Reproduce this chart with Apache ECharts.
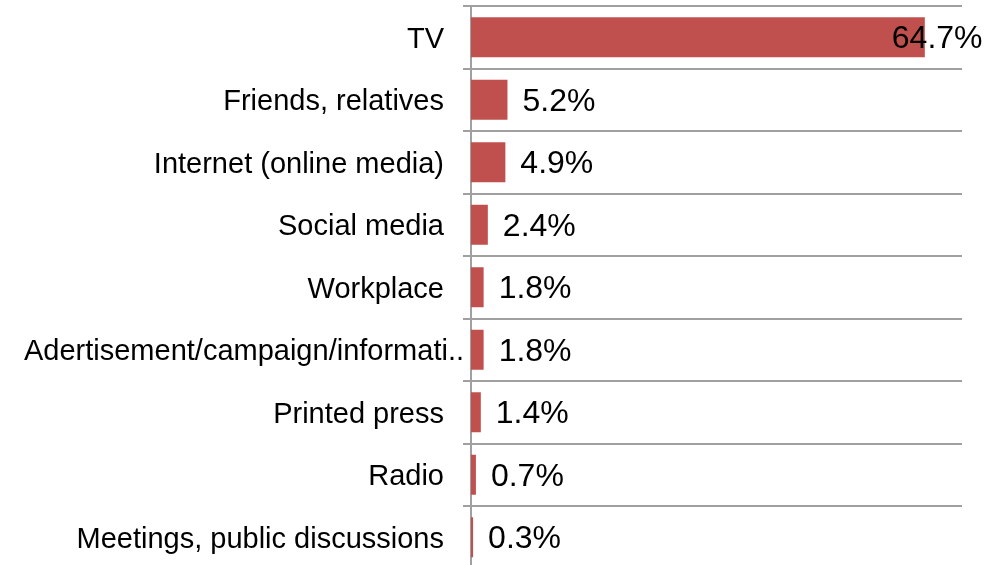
<!DOCTYPE html>
<html><head><meta charset="utf-8">
<script src="https://cdn.jsdelivr.net/npm/echarts@6/dist/echarts.min.js"></script>
<style>html,body{margin:0;padding:0;background:#fff}#c{width:999px;height:565px}</style>
</head><body><div id="c"></div>
<script>
var categories = ['TV','Friends, relatives','Internet (online media)','Social media','Workplace','Adertisement/campaign/informati..','Printed press','Radio','Meetings, public discussions'];
var values = [64.7, 5.2, 4.9, 2.4, 1.8, 1.8, 1.4, 0.7, 0.3];

var chart = echarts.init(document.getElementById('c'));
var data = values.map(function(v, i){
  var d = {value: v};
  if (i === 0) d.label = {offset: [-48, 2]};
  return d;
});
var F = 'Liberation Sans, Arial';
chart.setOption({
  animation: false,
  grid: {left: 471, right: 37, top: 6, height: 562.5, containLabel: false, outerBoundsMode: 'none'},
  xAxis: {type: 'value', min: 0, max: 70, show: false},
  yAxis: {
    type: 'category', inverse: true, data: categories,
    axisLine: {show: true, lineStyle: {color: '#a0a0a0', width: 2}},
    axisTick: {show: true, length: 8, lineStyle: {color: '#a0a0a0', width: 2}},
    splitLine: {show: true, lineStyle: {color: '#a0a0a0', width: 2}},
    axisLabel: {margin: 27, fontFamily: F, fontSize: 29, color: '#000',
      formatter: function(v){
        if (/\.\.$/.test(v)) return '{c|' + v + '}';
        return '{a|' + v + '}';
      },
      rich: {
        a: {fontFamily: F, fontSize: 29, color: '#000', padding: [5, 0, 0, 0]},
        c: {fontFamily: F, fontSize: 29, color: '#000', padding: [5, -20, 0, 0]}
      }
    }
  },
  series: [{
    type: 'bar', data: data, barWidth: 40,
    itemStyle: {color: '#C0504D'},
    label: {show: true, position: 'right', distance: 15, offset: [0, 2], fontFamily: F, fontSize: 32, color: '#000',
      formatter: function(p){ return p.value.toFixed(1) + '%'; }}
  }]
});
</script></body></html>
